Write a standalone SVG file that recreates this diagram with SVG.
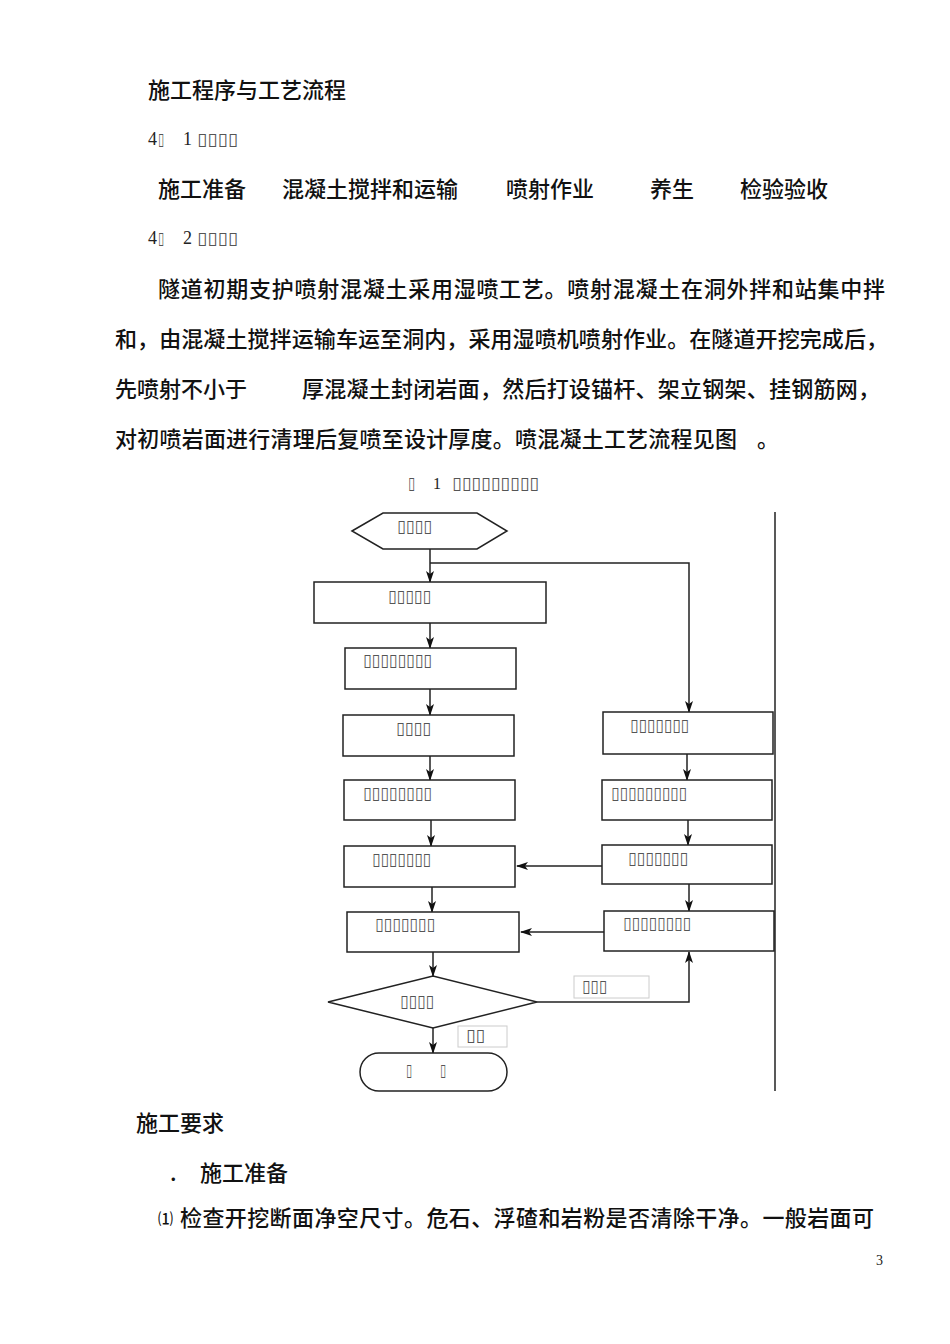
<svg xmlns="http://www.w3.org/2000/svg" width="950" height="1344" viewBox="0 0 950 1344">
<style>
.cn{font-family:"Noto Sans CJK SC","Noto Sans",sans-serif;font-size:22px;font-weight:500;fill:#111}
.lat{font-family:"Liberation Serif",serif;font-size:18px;fill:#222}
.tofu{font-family:"DejaVu Sans",sans-serif;font-size:17px;fill:#555;dominant-baseline:central}
.box{fill:#fff;stroke:#222;stroke-width:1.5}
.lbl{fill:#fff;stroke:#ccc;stroke-width:1}
.con{fill:none;stroke:#222;stroke-width:1.5}
</style>
<defs>
<marker id="ah" markerUnits="userSpaceOnUse" markerWidth="12" markerHeight="8" refX="11" refY="4" orient="auto">
<path d="M0,0 L12,4 L0,8 L3,4 z" fill="#111"/>
</marker>
</defs>
<rect width="950" height="1344" fill="#fff"/>
<g id="page-text">
<text class="cn" x="148" y="97.5">施工程序与工艺流程</text>
<text class="lat" x="148" y="145">4</text>
<text class="tofu" x="158" y="139" textLength="6" lengthAdjust="spacingAndGlyphs">▯</text>
<text class="lat" x="183" y="145">1</text>
<text class="tofu" x="197" y="139" textLength="41" lengthAdjust="spacingAndGlyphs">▯▯▯▯</text>
<text class="cn" x="158" y="196.5">施工准备</text>
<text class="cn" x="282" y="196.5">混凝土搅拌和运输</text>
<text class="cn" x="506" y="196.5">喷射作业</text>
<text class="cn" x="650" y="196.5">养生</text>
<text class="cn" x="740" y="196.5">检验验收</text>
<text class="lat" x="148" y="244">4</text>
<text class="tofu" x="158" y="238" textLength="6" lengthAdjust="spacingAndGlyphs">▯</text>
<text class="lat" x="183" y="244">2</text>
<text class="tofu" x="197" y="238" textLength="41" lengthAdjust="spacingAndGlyphs">▯▯▯▯</text>
<text class="cn" x="158" y="296.5" textLength="727" lengthAdjust="spacing">隧道初期支护喷射混凝土采用湿喷工艺。喷射混凝土在洞外拌和站集中拌</text>
<text class="cn" x="115" y="346.5" textLength="773" lengthAdjust="spacing">和，由混凝土搅拌运输车运至洞内，采用湿喷机喷射作业。在隧道开挖完成后，</text>
<text class="cn" x="115" y="396.5" textLength="132" lengthAdjust="spacing">先喷射不小于</text>
<text class="cn" x="302" y="396.5" textLength="578" lengthAdjust="spacing">厚混凝土封闭岩面，然后打设锚杆、架立钢架、挂钢筋网，</text>
<text class="cn" x="115" y="446.5" textLength="622" lengthAdjust="spacing">对初喷岩面进行清理后复喷至设计厚度。喷混凝土工艺流程见图</text>
<text class="cn" x="757" y="446.5">。</text>
<text class="tofu" x="408" y="483" textLength="7" lengthAdjust="spacingAndGlyphs">▯</text>
<text class="lat" x="433" y="489" style="font-size:16px">1</text>
<text class="tofu" x="452" y="483" textLength="87" lengthAdjust="spacingAndGlyphs">▯▯▯▯▯▯▯▯▯</text>
<text class="cn" x="136" y="1130.5">施工要求</text>
<text class="cn" x="170" y="1180.5">.</text>
<text class="cn" x="200" y="1180.5">施工准备</text>
<text class="cn" x="158" y="1224" style="font-size:15px">⑴</text>
<text class="cn" x="180" y="1225.5" textLength="694" lengthAdjust="spacing">检查开挖断面净空尺寸。危石、浮碴和岩粉是否清除干净。一般岩面可</text>
<text class="lat" x="876" y="1265" style="font-size:14px">3</text>
</g>
<line x1="775" y1="512" x2="775" y2="1091" stroke="#222" stroke-width="1.5"/>
<g id="connectors">
<line class="con" x1="430" y1="549" x2="430" y2="582" marker-end="url(#ah)"/>
<polyline class="con" points="430,563 689,563 689,712" marker-end="url(#ah)"/>
<line class="con" x1="430" y1="623" x2="430" y2="648" marker-end="url(#ah)"/>
<line class="con" x1="430" y1="689" x2="430" y2="715" marker-end="url(#ah)"/>
<line class="con" x1="430" y1="756" x2="430" y2="780" marker-end="url(#ah)"/>
<line class="con" x1="431" y1="820" x2="431" y2="846" marker-end="url(#ah)"/>
<line class="con" x1="432" y1="887" x2="432" y2="912" marker-end="url(#ah)"/>
<line class="con" x1="433" y1="952" x2="433" y2="976" marker-end="url(#ah)"/>
<line class="con" x1="433" y1="1028" x2="433" y2="1053" marker-end="url(#ah)"/>
<line class="con" x1="687" y1="754" x2="687" y2="780" marker-end="url(#ah)"/>
<line class="con" x1="688" y1="820" x2="688" y2="845" marker-end="url(#ah)"/>
<line class="con" x1="689" y1="884" x2="689" y2="911" marker-end="url(#ah)"/>
<line class="con" x1="602" y1="866" x2="517" y2="866" marker-end="url(#ah)"/>
<line class="con" x1="604" y1="932" x2="521" y2="932" marker-end="url(#ah)"/>
<polyline class="con" points="537,1002 689,1002 689,952" marker-end="url(#ah)"/>
</g>
<g id="start">
<polygon class="box" points="352,531 383,513 477,513 507,531 477,549 383,549"/>
<text class="tofu" x="397" y="526" textLength="35" lengthAdjust="spacingAndGlyphs">▯▯▯▯</text>
</g>
<g id="b1">
<rect class="box" x="314" y="582" width="232" height="41"/>
<text class="tofu" x="388" y="596" textLength="43" lengthAdjust="spacingAndGlyphs">▯▯▯▯▯</text>
</g>
<g id="b2">
<rect class="box" x="345" y="648" width="171" height="41"/>
<text class="tofu" x="363" y="660" textLength="69" lengthAdjust="spacingAndGlyphs">▯▯▯▯▯▯▯▯</text>
</g>
<g id="b3">
<rect class="box" x="343" y="715" width="171" height="41"/>
<text class="tofu" x="396" y="728" textLength="35" lengthAdjust="spacingAndGlyphs">▯▯▯▯</text>
</g>
<g id="b4">
<rect class="box" x="344" y="780" width="171" height="40"/>
<text class="tofu" x="363" y="793" textLength="69" lengthAdjust="spacingAndGlyphs">▯▯▯▯▯▯▯▯</text>
</g>
<g id="b5">
<rect class="box" x="344" y="846" width="171" height="41"/>
<text class="tofu" x="372" y="859" textLength="59" lengthAdjust="spacingAndGlyphs">▯▯▯▯▯▯▯</text>
</g>
<g id="b6">
<rect class="box" x="347" y="912" width="172" height="40"/>
<text class="tofu" x="375" y="924" textLength="60" lengthAdjust="spacingAndGlyphs">▯▯▯▯▯▯▯</text>
</g>
<g id="r1">
<rect class="box" x="603" y="712" width="170" height="42"/>
<text class="tofu" x="630" y="725" textLength="59" lengthAdjust="spacingAndGlyphs">▯▯▯▯▯▯▯</text>
</g>
<g id="r2">
<rect class="box" x="602" y="780" width="170" height="40"/>
<text class="tofu" x="611" y="793" textLength="76" lengthAdjust="spacingAndGlyphs">▯▯▯▯▯▯▯▯▯</text>
</g>
<g id="r3">
<rect class="box" x="602" y="845" width="170" height="39"/>
<text class="tofu" x="628" y="858" textLength="60" lengthAdjust="spacingAndGlyphs">▯▯▯▯▯▯▯</text>
</g>
<g id="r4">
<rect class="box" x="604" y="911" width="170" height="40"/>
<text class="tofu" x="623" y="923" textLength="68" lengthAdjust="spacingAndGlyphs">▯▯▯▯▯▯▯▯</text>
</g>
<g id="decision">
<polygon class="box" points="328,1002 433,976 537,1002 433,1028"/>
<text class="tofu" x="400" y="1001" textLength="34" lengthAdjust="spacingAndGlyphs">▯▯▯▯</text>
</g>
<g id="label-no">
<rect class="lbl" x="574" y="976" width="75" height="22"/>
<text class="tofu" x="582" y="986" textLength="25" lengthAdjust="spacingAndGlyphs">▯▯▯</text>
</g>
<g id="label-yes">
<rect class="lbl" x="458" y="1026" width="49" height="21"/>
<text class="tofu" x="466" y="1035" textLength="19" lengthAdjust="spacingAndGlyphs">▯▯</text>
</g>
<g id="end">
<rect class="box" x="360" y="1053" width="147" height="38" rx="19" ry="19"/>
<text class="tofu" x="406" y="1070" textLength="6" lengthAdjust="spacingAndGlyphs">▯</text>
<text class="tofu" x="440" y="1070" textLength="6" lengthAdjust="spacingAndGlyphs">▯</text>
</g>
</svg>
